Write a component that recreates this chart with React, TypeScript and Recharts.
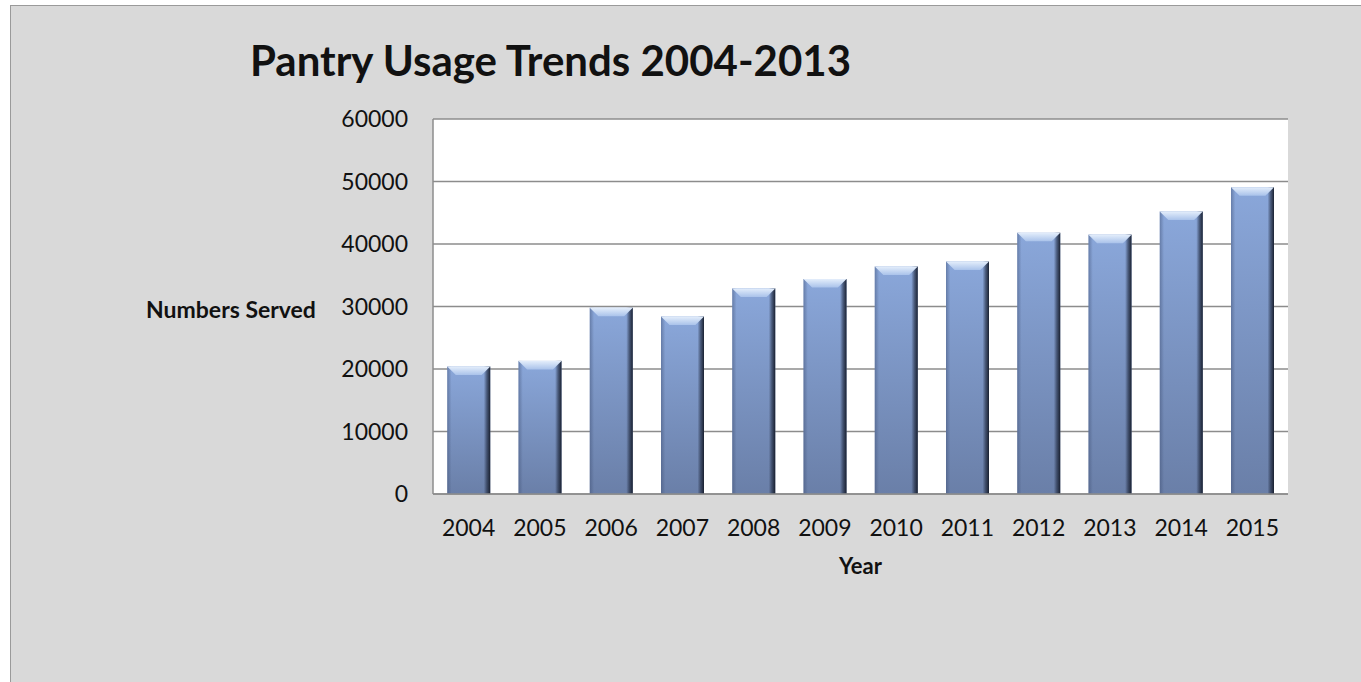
import React from 'react';
import { BarChart, Bar, XAxis, YAxis, CartesianGrid, Label } from 'recharts';

const years = ['2004', '2005', '2006', '2007', '2008', '2009', '2010', '2011', '2012', '2013', '2014', '2015'];
const served = [20400, 21300, 29800, 28400, 32900, 34400, 36400, 37200, 41800, 41500, 45200, 49100];
const yTicks = [0, 10000, 20000, 30000, 40000, 50000, 60000];

const data = years.map((year, i) => ({ year, served: served[i] }));

const FONT = 'Lato, "Open Sans", sans-serif';

// bevelled 3D look of the bars
const BevelBar = (props: any) => {
  const { x, y, width, height } = props;
  if (!height || height <= 0) return null;
  const bevel = Math.min(9, width / 5);
  return (
    <g>
      <rect x={x} y={y} width={width} height={height} fill="url(#barBody)" />
      <rect x={x} y={y} width={width} height={height} fill="url(#barEdges)" />
      <polygon
        points={`${x},${y} ${x + width},${y} ${x + width - bevel},${y + bevel} ${x + bevel},${y + bevel}`}
        fill="url(#barTop)"
      />
    </g>
  );
};

export default function App() {
  return (
    <div
      style={{
        position: 'absolute',
        left: 0,
        top: 0,
        width: 1361,
        height: 682,
        background: '#ffffff',
      }}
    >
      <div
        style={{
          position: 'absolute',
          left: 10,
          top: 5,
          width: 1361,
          height: 690,
          background: '#d9d9d9',
          border: '1px solid #9a9a9a',
          boxSizing: 'border-box',
        }}
      />
      <div
        style={{
          position: 'absolute',
          left: 250,
          top: 35,
          fontFamily: FONT,
          fontWeight: 700,
          fontSize: 42,
          color: '#111',
          whiteSpace: 'nowrap',
        }}
      >
        Pantry Usage Trends 2004-2013
      </div>
      <div style={{ position: 'absolute', left: 0, top: 0 }}>
        <BarChart
          width={1361}
          height={682}
          data={data}
          margin={{ top: 119, right: 73, bottom: 158, left: 333 }}
          barCategoryGap="20%"
        >
          <defs>
            <linearGradient id="barBody" x1="0" y1="0" x2="0" y2="1">
              <stop offset="0%" stopColor="#8aa7da" />
              <stop offset="100%" stopColor="#6a7fa8" />
            </linearGradient>
            <linearGradient id="barEdges" x1="0" y1="0" x2="1" y2="0">
              <stop offset="0%" stopColor="#3c4c70" stopOpacity={0.45} />
              <stop offset="10%" stopColor="#3c4c70" stopOpacity={0} />
              <stop offset="85%" stopColor="#1a2235" stopOpacity={0} />
              <stop offset="92%" stopColor="#1a2235" stopOpacity={0.55} />
              <stop offset="100%" stopColor="#141a28" stopOpacity={0.95} />
            </linearGradient>
            <linearGradient id="barTop" x1="0" y1="0" x2="0" y2="1">
              <stop offset="0%" stopColor="#e4eefb" />
              <stop offset="100%" stopColor="#a9c2ea" />
            </linearGradient>
          </defs>
          <CartesianGrid vertical={false} stroke="#8c8c8c" strokeWidth={1.5} fill="#ffffff" />
          <XAxis
            dataKey="year"
            stroke="#8c8c8c"
            strokeWidth={1.5}
            tickLine={false}
            tickSize={0}
            tickMargin={26}
            tick={{ fill: '#111', fontSize: 23, fontFamily: FONT }}
          >
            <Label
              value="Year"
              position="insideBottom"
              offset={-50}
              style={{ fill: '#111', fontSize: 22, fontWeight: 700, fontFamily: FONT }}
            />
          </XAxis>
          <YAxis
            width={100}
            domain={[0, 60000]}
            ticks={yTicks}
            interval={0}
            stroke="#8c8c8c"
            strokeWidth={1.5}
            tickLine={false}
            tickSize={0}
            tickMargin={25}
            tick={{ fill: '#111', fontSize: 23, fontFamily: FONT }}
          >
            <Label
              value="Numbers Served"
              position="left"
              offset={102}
              dy={3}
              style={{ fill: '#111', fontSize: 23, fontWeight: 700, fontFamily: FONT, textAnchor: 'middle' }}
            />
          </YAxis>
          <Bar dataKey="served" shape={<BevelBar />} isAnimationActive={false} />
        </BarChart>
      </div>
    </div>
  );
}
